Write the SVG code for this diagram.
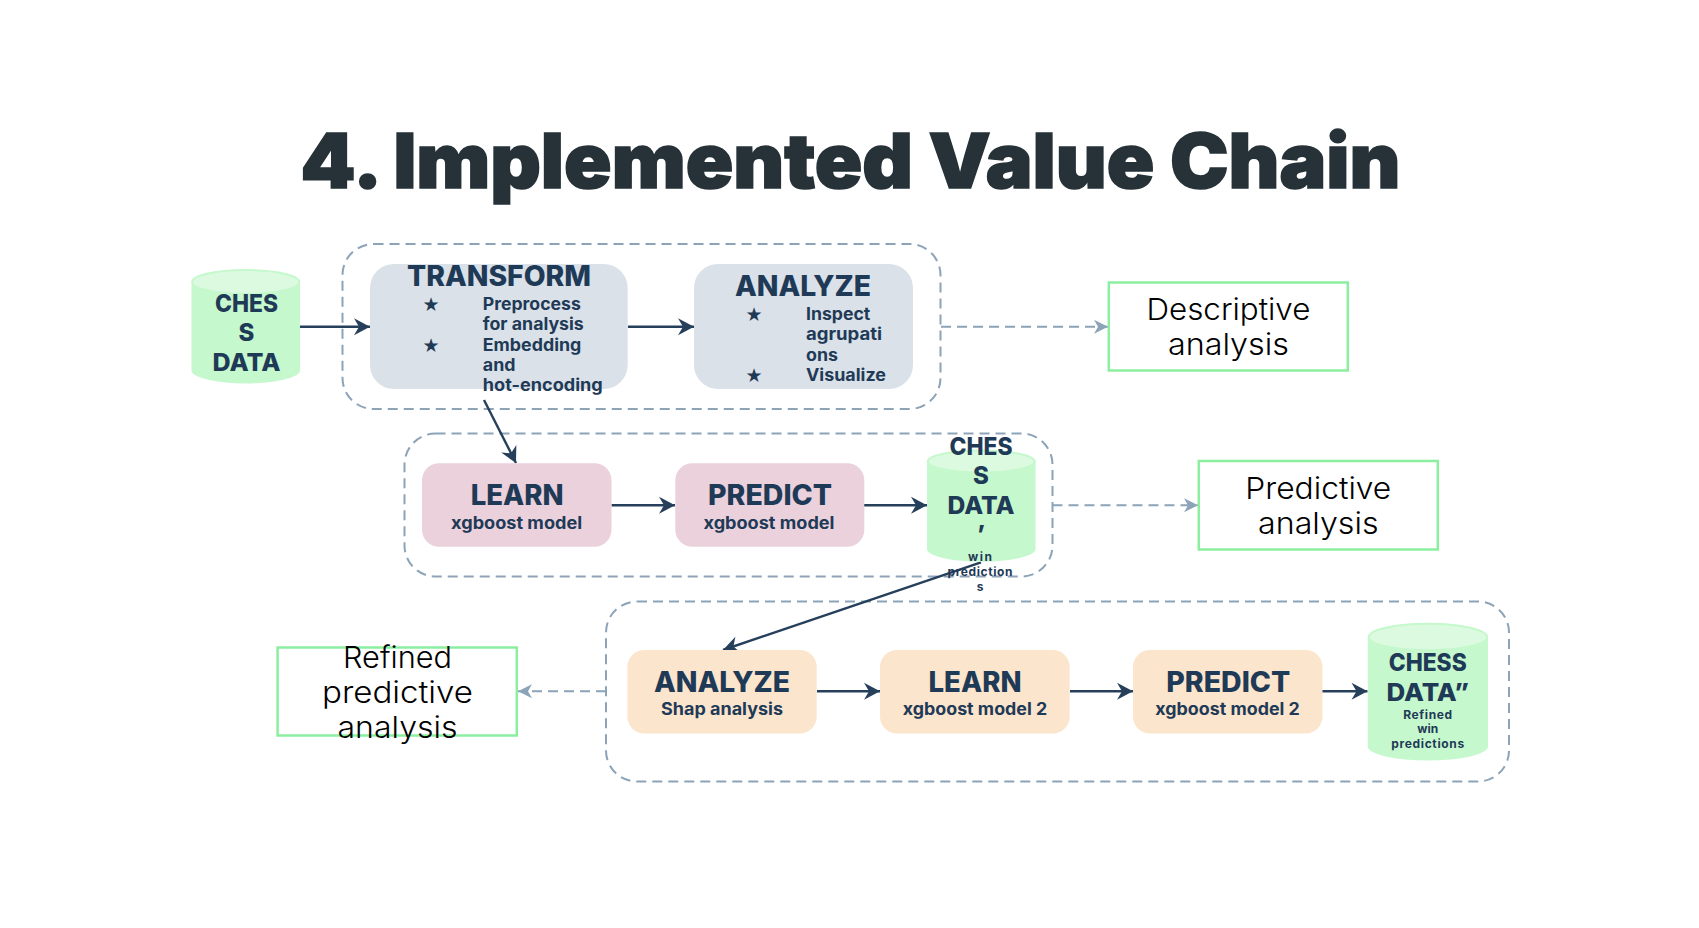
<svg xmlns="http://www.w3.org/2000/svg" width="1699" height="928" viewBox="0 0 1699 928">
<style>
text{font-family:"Inter","Liberation Sans",sans-serif;fill:#1f3a57;text-anchor:middle}
.t{font-weight:900;font-size:76px;fill:#263238;stroke:#263238;stroke-width:1.6}
.h{font-weight:800;font-size:28px}
.s{font-weight:700;font-size:17px}
.c{font-weight:800;font-size:24px}
.m{font-weight:700;font-size:12px}
.l{font-weight:700;font-size:17px;text-anchor:start}
.star{font-family:"DejaVu Sans",sans-serif;font-size:19px}
.o{font-weight:300;font-size:30px;fill:#000}
.g{fill:none;stroke:#8ca3b8;stroke-width:2;stroke-dasharray:10 6}
.out{fill:#fff;stroke:#8cefa0;stroke-width:2.5}
.cb{fill:#c6f8cd}
.ct{fill:#dcfadf;stroke:#c6f8cd;stroke-width:2}
.a{fill:none;stroke:#26405c;stroke-width:2.4;marker-end:url(#ah)}
.d{fill:none;stroke:#8ca3b8;stroke-width:2;stroke-dasharray:10 6;marker-end:url(#dh)}
</style>
<defs>
<marker id="ah" markerUnits="userSpaceOnUse" markerWidth="20" markerHeight="20" viewBox="-17 -10 18 20" refX="0" refY="0" orient="auto"><path d="M0 0L-16 -8.5L-11 0L-16 8.5Z" fill="#26405c"/></marker>
<marker id="dh" markerUnits="userSpaceOnUse" markerWidth="20" markerHeight="20" viewBox="-17 -10 18 20" refX="0" refY="0" orient="auto"><path d="M0 0L-14 -7L-10 0L-14 7Z" fill="#8ca3b8"/></marker>
</defs>
<rect width="1699" height="928" fill="#fff"/>
<text id="title" class="t" x="850.5" y="188" textLength="1100" lengthAdjust="spacingAndGlyphs">4. Implemented Value Chain</text>

<g id="stage-1"><rect class="g" x="342.5" y="244" width="598" height="165" rx="31"/></g>
<g id="stage-2"><rect class="g" x="404.5" y="433.5" width="648" height="143" rx="31"/></g>
<g id="stage-3"><rect class="g" x="606" y="601.5" width="903" height="180" rx="31"/></g>

<g id="connectors">
<path class="a" d="M300 326.7H370"/>
<path class="a" d="M628 326.7H694"/>
<path class="a" d="M484 400L516 463"/>
<path class="a" d="M611.5 505.3H675"/>
<path class="a" d="M864 505.3H927"/>
<path class="a" d="M981 562.3L723 650"/>
<path class="a" d="M817 691.2H880"/>
<path class="a" d="M1070 691.2H1133"/>
<path class="a" d="M1322 691.2H1367.5"/>
<path class="d" d="M941 326.7H1108"/>
<path class="d" d="M1052.5 505.3H1198"/>
<path class="d" d="M606 691.2H518"/>
</g>

<g id="chess-data-1">
<path class="cb" d="M191.5 282A54.3 13 0 0 1 300 282V371A54.3 13 0 0 1 191.5 371Z"/>
<ellipse class="ct" cx="245.7" cy="282" rx="53.5" ry="12"/>
<text class="c" x="246.5" y="312" textLength="63" lengthAdjust="spacingAndGlyphs">CHES</text>
<text class="c" x="246.5" y="341.3">S</text>
<text class="c" x="246.5" y="371.3" textLength="68" lengthAdjust="spacingAndGlyphs">DATA</text>
</g>

<g id="transform">
<rect x="370" y="264" width="257.7" height="125" rx="24" fill="#dae1e8"/>
<text class="h" x="499" y="286.2" textLength="184" lengthAdjust="spacingAndGlyphs">TRANSFORM</text>
<text class="star" x="431" y="311">★</text>
<text class="l" x="482.8" y="310.3" textLength="98" lengthAdjust="spacingAndGlyphs">Preprocess</text>
<text class="l" x="482.8" y="330.3" textLength="101" lengthAdjust="spacingAndGlyphs">for analysis</text>
<text class="star" x="431" y="352">★</text>
<text class="l" x="482.8" y="350.7" textLength="98.5" lengthAdjust="spacingAndGlyphs">Embedding</text>
<text class="l" x="482.8" y="370.7" textLength="32.7" lengthAdjust="spacingAndGlyphs">and</text>
<text class="l" x="482.8" y="390.7" textLength="120" lengthAdjust="spacingAndGlyphs">hot-encoding</text>
</g>

<g id="analyze-1">
<rect x="694" y="264" width="219" height="125" rx="24" fill="#dae1e8"/>
<text class="h" x="803" y="296.2" textLength="136" lengthAdjust="spacingAndGlyphs">ANALYZE</text>
<text class="star" x="754" y="321">★</text>
<text class="l" x="806" y="320.3" textLength="64.3" lengthAdjust="spacingAndGlyphs">Inspect</text>
<text class="l" x="806" y="340.3" textLength="76" lengthAdjust="spacingAndGlyphs">agrupati</text>
<text class="l" x="806" y="360.5" textLength="32" lengthAdjust="spacingAndGlyphs">ons</text>
<text class="star" x="754" y="381.5">★</text>
<text class="l" x="806" y="380.7" textLength="80" lengthAdjust="spacingAndGlyphs">Visualize</text>
</g>

<g id="descriptive">
<rect class="out" x="1108.8" y="282.5" width="239" height="88"/>
<text class="o" x="1228.4" y="320.3" textLength="164" lengthAdjust="spacingAndGlyphs">Descriptive</text>
<text class="o" x="1228.4" y="355.3" textLength="121" lengthAdjust="spacingAndGlyphs">analysis</text>
</g>

<g id="learn-1">
<rect x="422" y="463.3" width="189.5" height="83.4" rx="17" fill="#ead1dc"/>
<text class="h" x="517.2" y="505" textLength="93" lengthAdjust="spacingAndGlyphs">LEARN</text>
<text class="s" x="516.6" y="528.7" textLength="131" lengthAdjust="spacingAndGlyphs">xgboost model</text>
</g>

<g id="predict-1">
<rect x="675.3" y="463.3" width="189" height="83.4" rx="17" fill="#ead1dc"/>
<text class="h" x="770" y="505" textLength="124" lengthAdjust="spacingAndGlyphs">PREDICT</text>
<text class="s" x="769" y="528.7" textLength="131" lengthAdjust="spacingAndGlyphs">xgboost model</text>
</g>

<g id="chess-data-2">
<path class="cb" d="M927 461.5A54.3 12 0 0 1 1035.5 461.5V549.5A54.3 12.8 0 0 1 927 549.5Z"/>
<ellipse class="ct" cx="981.2" cy="461.5" rx="53.5" ry="11"/>
<text class="c" x="981" y="454.5" textLength="63" lengthAdjust="spacingAndGlyphs">CHES</text>
<text class="c" x="981" y="483.5">S</text>
<text class="c" x="981" y="513.5" textLength="67" lengthAdjust="spacingAndGlyphs">DATA</text>
<text class="c" x="981" y="543">’</text>
<text class="m" x="980" y="561" textLength="24" lengthAdjust="spacing">win</text>
<text class="m" x="980" y="575.5" textLength="65" lengthAdjust="spacing">prediction</text>
<text class="m" x="980" y="590.5">s</text>
</g>

<g id="predictive">
<rect class="out" x="1198.8" y="461" width="239" height="88.5"/>
<text class="o" x="1318.3" y="499.3" textLength="146" lengthAdjust="spacingAndGlyphs">Predictive</text>
<text class="o" x="1318.3" y="534.3" textLength="120.5" lengthAdjust="spacingAndGlyphs">analysis</text>
</g>

<g id="refined">
<rect class="out" x="277.6" y="647.5" width="239.2" height="88"/>
<text class="o" x="397.5" y="667.7" textLength="109" lengthAdjust="spacingAndGlyphs">Refined</text>
<text class="o" x="397.5" y="702.7" textLength="151" lengthAdjust="spacingAndGlyphs">predictive</text>
<text class="o" x="397.5" y="737.7" textLength="120" lengthAdjust="spacingAndGlyphs">analysis</text>
</g>

<g id="analyze-2">
<rect x="627.4" y="650" width="189.3" height="83.5" rx="17" fill="#fce5cd"/>
<text class="h" x="722" y="692" textLength="136" lengthAdjust="spacingAndGlyphs">ANALYZE</text>
<text class="s" x="722" y="715" textLength="122" lengthAdjust="spacingAndGlyphs">Shap analysis</text>
</g>

<g id="learn-2">
<rect x="880" y="650" width="189.7" height="83.5" rx="17" fill="#fce5cd"/>
<text class="h" x="975" y="692" textLength="93" lengthAdjust="spacingAndGlyphs">LEARN</text>
<text class="s" x="975" y="715.3" textLength="144.5" lengthAdjust="spacingAndGlyphs">xgboost model 2</text>
</g>

<g id="predict-2">
<rect x="1133" y="650" width="189.5" height="83.5" rx="17" fill="#fce5cd"/>
<text class="h" x="1228.3" y="692" textLength="124" lengthAdjust="spacingAndGlyphs">PREDICT</text>
<text class="s" x="1227.6" y="715.3" textLength="144.5" lengthAdjust="spacingAndGlyphs">xgboost model 2</text>
</g>

<g id="chess-data-3">
<path class="cb" d="M1367.8 637A60.1 14 0 0 1 1488 637V746.5A60.1 14 0 0 1 1367.8 746.5Z"/>
<ellipse class="ct" cx="1427.9" cy="637" rx="59.2" ry="13.2"/>
<text class="c" x="1427.7" y="670.5" textLength="78" lengthAdjust="spacingAndGlyphs">CHESS</text>
<text class="c" x="1427.7" y="700.5" textLength="82.5" lengthAdjust="spacingAndGlyphs">DATA”</text>
<text class="m" x="1427.7" y="718.5" textLength="49" lengthAdjust="spacing">Refined</text>
<text class="m" x="1427.7" y="732.8" textLength="21" lengthAdjust="spacing">win</text>
<text class="m" x="1427.7" y="747.8" textLength="73" lengthAdjust="spacing">predictions</text>
</g>
</svg>
